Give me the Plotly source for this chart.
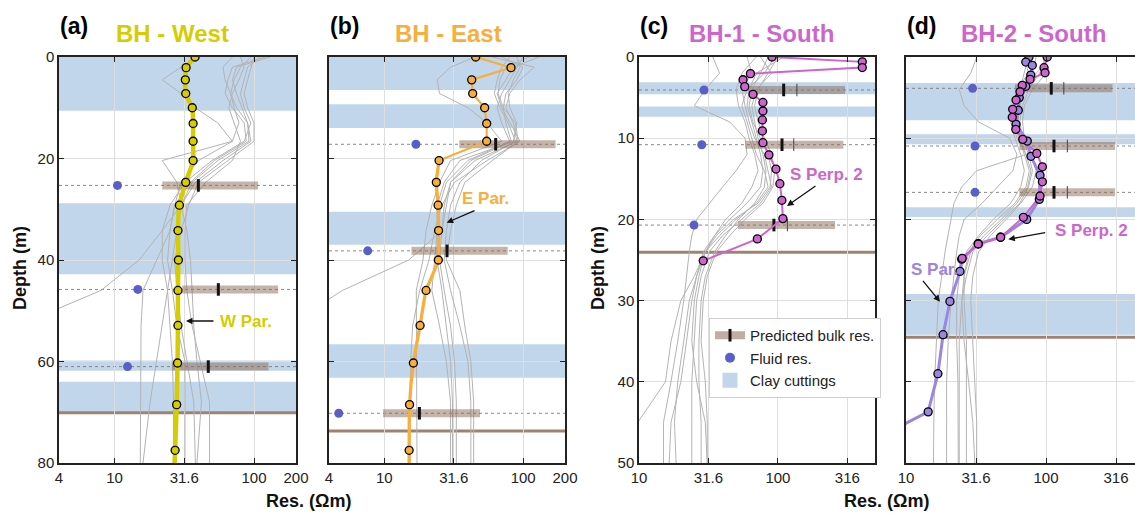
import math
import plotly.graph_objects as go

W, H = 1135, 513
TOP, BOT = 57, 463
FONT = "Liberation Sans, Arial, sans-serif"

# ---------------- data ----------------
# model layer depths (m) for BH-West / BH-East profiles
depth_ab = [0, 2.1, 4.5, 7.2, 10.0, 13.1, 16.6, 20.4, 24.7, 29.2, 34.2, 40.0, 46.0, 52.9, 60.3, 68.5, 77.5]
west_par = [37.8, 32.6, 32.2, 32.4, 36.1, 36.6, 36.6, 36.6, 32.4, 29.2, 28.5, 28.7, 28.5, 28.5, 28.3, 27.9, 27.2]
east_par = [45.5, 81.7, 42.6, 43.3, 52.8, 54.6, 54.6, 24.8, 23.7, 24.4, 24.6, 24.5, 20.0, 18.1, 16.2, 15.2, 15.1]
west_tail = (80, 27.0)
east_tail = (80, 15.1)

depth_c_perp2 = [0, 0.6, 1.3, 2.05, 2.8, 3.65, 4.6, 5.6, 6.65, 7.75, 9.1, 10.55, 12.05, 13.8, 15.6, 17.65, 19.9, 22.4, 25.1]
res_c_perp2 = [90.6, 405, 405, 63.4, 56.1, 57.7, 66.2, 78.0, 78.0, 77.3, 77.3, 78.0, 86.2, 96.8, 103.3, 106.8, 108.6, 71.1, 29.0]

depth_d_perp2 = [0, 1.32, 1.94, 2.75, 3.49, 4.28, 5.30, 6.44, 7.43, 8.91, 10.14, 11.87, 13.52, 15.37, 17.12, 19.74, 22.2, 23.03, 24.79]
res_d_perp2 = [102, 96.8, 98.4, 76.9, 67.7, 65.2, 61.1, 57.8, 57.4, 60.8, 68.2, 85.9, 94.2, 94.2, 90.6, 68.9, 47.4, 32.8, 25.2]
depth_d_par = [0, 0.62, 1.02, 2.22, 3.61, 5.0, 6.56, 8.29, 10.35, 12.23, 14.57, 17.53, 20.0, 22.2, 23.0, 24.9, 26.4, 30.1, 34.2, 39.0, 43.7]
res_d_par = [75.6, 71.7, 79.8, 77.8, 71.7, 64.4, 63.4, 61.1, 73.5, 78.1, 90.6, 89.6, 72.8, 47.4, 32.8, 25.0, 24.3, 20.6, 18.4, 16.9, 14.4]
d_par_tail = (46.1, 7.7)

# other (grey) inverted profiles
grey_depth_ab = [0, 2, 4.5, 7.2, 10, 13, 16.6, 20.4, 24.7, 29.2, 34.2, 40, 46, 53, 60, 68, 80]
grey_a = [
    [95, 80, 72, 68, 75, 90, 95, 60, 38, 30, 28, 26, 24, 22, 20, 18, 16],
    [120, 70, 65, 62, 70, 85, 88, 52, 35, 27, 25, 20, 16, 15.5, 15.4, 15.3, 15.3],
    [80, 85, 78, 70, 66, 72, 80, 70, 45, 33, 32, 32, 33, 36, 41, 48, 48],
    [40, 30, 22, 30, 38, 55, 70, 22, 28, 30, 33, 35, 36, 37, 39, 42, 39],
    [110, 90, 85, 80, 85, 95, 85, 50, 32, 25, 22, 22, 24, 25, 26, 26.5, 26.4],
    [70, 60, 62, 68, 72, 78, 70, 40, 30, 27, 25, 24, 26, 28, 32, 32, 32],
    [130, 75, 70, 75, 82, 90, 92, 55, 36, 30, 22, 15, 8, 2, 2, 2, 2],
    [100, 95, 90, 85, 90, 100, 100, 65, 40, 34, 30, 27, 28, 30, 33, 37, 38],
]
grey_b = [
    [60, 120, 95, 80, 75, 85, 90, 45, 30, 28, 26, 25, 27, 30, 32, 33, 33],
    [100, 90, 80, 70, 65, 70, 80, 40, 28, 25, 24, 23, 22, 25, 28, 30, 30],
    [130, 85, 75, 65, 70, 80, 95, 55, 32, 26, 23, 21, 18, 16, 15.5, 15.3, 15.3],
    [45, 30, 24, 25, 40, 55, 70, 30, 25, 22, 20, 19, 17, 17, 17, 17.2, 17.2],
    [80, 70, 65, 62, 68, 78, 88, 50, 35, 30, 28, 27, 30, 35, 40, 42, 42],
    [70, 100, 90, 75, 72, 75, 82, 42, 30, 27, 26, 15, 5, 2, 2, 2, 2],
    [110, 75, 68, 66, 72, 88, 92, 60, 38, 33, 30, 28, 35, 38, 42, 44, 44],
    [90, 95, 85, 78, 80, 90, 85, 35, 27, 24, 24, 24, 26, 28, 30, 31, 31],
]
grey_depth_cd = [0, 2, 4, 6, 8, 10, 12, 14, 16, 18, 20, 22, 24, 27, 30, 35, 40, 45, 50]
grey_c = [
    [34, 38, 30, 25, 45, 58, 60, 50, 40, 32, 26, 24, 23, 22, 21, 19, 17, 15, 15],
    [60, 65, 55, 58, 62, 68, 80, 85, 90, 75, 55, 40, 32, 28, 26, 25, 24, 24, 24],
    [95, 80, 60, 55, 60, 65, 70, 80, 85, 70, 50, 38, 30, 27, 25, 24, 26, 30, 31],
    [110, 70, 62, 60, 65, 70, 75, 78, 75, 60, 45, 35, 29, 26, 24, 22, 20, 17, 16.5],
    [75, 90, 70, 65, 68, 72, 78, 82, 80, 68, 52, 42, 35, 30, 28, 27, 27, 28, 28],
    [85, 75, 65, 62, 66, 75, 85, 90, 88, 72, 48, 36, 30, 26, 23, 21, 19, 18, 18.5],
    [70, 55, 50, 52, 58, 62, 68, 72, 65, 55, 42, 35, 30, 25, 20, 17, 15.5, 9.8, 8],
    [100, 85, 72, 68, 72, 80, 90, 95, 92, 78, 58, 45, 36, 31, 29, 28, 30, 31, 31],
]
grey_d = [
    [32, 29, 24, 26, 33, 55, 62, 58, 45, 35, 26, 24, 23, 22, 21, 20, 19.5, 19.5, 19.5],
    [75, 70, 65, 60, 58, 62, 72, 32, 25, 22, 21, 20, 19, 18, 17, 16.5, 16, 15.8, 15.7],
    [100, 90, 75, 68, 65, 68, 75, 80, 75, 65, 50, 38, 30, 27, 25, 24, 24, 24, 24],
    [110, 85, 70, 62, 60, 64, 70, 76, 72, 60, 45, 34, 28, 26, 26, 27, 27, 27, 27],
    [85, 80, 68, 65, 63, 66, 72, 78, 74, 62, 48, 36, 29, 26, 25, 26, 28, 30, 31],
    [95, 100, 80, 70, 68, 70, 78, 85, 80, 66, 52, 40, 33, 30, 29, 30, 31, 32, 32],
    [70, 75, 62, 58, 56, 60, 66, 70, 66, 56, 42, 33, 27, 24, 23, 23, 23.5, 23.6, 23.6],
]

# predicted bulk resistivity & fluid resistivity
bulk_depth = {'a': [25.3, 45.8, 61.0], 'b': [17.2, 38.2, 70.2], 'c': [4.06, 10.8, 20.7], 'd': [3.86, 10.96, 16.67]}
bulk_low = {'a': [22.0, 30.6, 25.8], 'b': [34.7, 15.7, 9.8], 'c': [62.6, 58.3, 51.6], 'd': [60, 64.5, 64.5]}
bulk_high = {'a': [107, 149, 127], 'b': [171, 77.4, 48.9], 'c': [304, 296, 258], 'd': [298, 311, 311]}
bulk_median = {'a': [39.9, 55.5, 47], 'b': [63.4, 28.3, 17.9], 'c': [110, 107, 93.6], 'd': [109, 114, 114]}
bulk_mean = {'c': [137, 130, 117], 'd': [134, 142, 142]}
fluid_res = {'a': [10.5, 14.7, 12.4], 'b': [16.9, 7.6, 4.7], 'c': [29.4, 28.3, 24.9], 'd': [29.9, 31.1, 31.1]}

clay_bands = {
    'a': [(0, 10.6), (28.8, 42.8), (59.8, 61.8), (64.0, 70.2)],
    'b': [(0, 6.5), (9.3, 14.0), (30.5, 37.0), (56.6, 63.2)],
    'c': [(3.1, 4.6), (6.1, 7.35)],
    'd': [(3.2, 7.8), (9.5, 10.75), (18.5, 19.7), (29.2, 34.2)],
}
brown_depth = {'a': 70.1, 'b': 73.7, 'c': 24.05, 'd': 34.5}

panel_titles = {'a': 'BH - West', 'b': 'BH - East', 'c': 'BH-1 - South', 'd': 'BH-2 - South'}
x_ticks_ab = [4, 10, 31.62, 100, 200]
x_ticklabels_ab = ['4', '10', '31.6', '100', '200']
x_ticks_cd = [10, 31.62, 100, 316.2]
x_ticklabels_cd = ['10', '31.6', '100', '316']
y_ticks_ab = [0, 20, 40, 60, 80]
y_ticks_cd = [0, 10, 20, 30, 40, 50]

# ---------------- styling ----------------
YELLOW = '#d6cc00'
ORANGE = '#f8ae3c'
MAGENTA = '#cc66cc'
PURPLE = '#9c85df'
GREY = '#b3b3b3'
BAND = '#c1d6ea'
BROWN = '#a08272'
BULK = 'rgba(140,105,85,0.5)'
FLUID = '#5a5fc8'

X_PIX = {'a': (59, 296), 'b': (329, 565), 'c': (639, 875), 'd': (906, 1135)}
X_RANGE = {'a': (4, 200), 'b': (4, 200), 'c': (10, 500), 'd': (10, 432)}
Y_MAX = {'a': 80, 'b': 80, 'c': 50, 'd': 50}
TITLE_CX = {'a': 172.5, 'b': 448, 'c': 761, 'd': 1033}
TITLE_COL = {'a': YELLOW, 'b': ORANGE, 'c': MAGENTA, 'd': MAGENTA}


def fx(px):
    return px / W


def fy(py):
    return 1 - py / H


fig = go.Figure()
layout = dict(
    width=W, height=H, margin=dict(l=0, r=0, t=0, b=0, autoexpand=False),
    paper_bgcolor='white', plot_bgcolor='white',
    font=dict(family=FONT, size=15, color='#222'),
    showlegend=True,
)
shapes = []
annotations = []

for i, p in enumerate(['a', 'b', 'c', 'd']):
    n = '' if i == 0 else str(i + 1)
    xa, ya = 'x' + n, 'y' + n
    x0, x1 = X_PIX[p]
    ab = p in ('a', 'b')
    layout['xaxis' + n] = dict(
        domain=[fx(x0), fx(x1)], anchor=ya, type='log',
        range=[math.log10(X_RANGE[p][0]), math.log10(X_RANGE[p][1])],
        tickvals=x_ticks_ab if ab else x_ticks_cd,
        ticktext=x_ticklabels_ab if ab else x_ticklabels_cd,
        showgrid=True, gridcolor='#dedede', gridwidth=1,
        ticks='inside', ticklen=5, tickwidth=1.2, tickcolor='#222',
        showline=True, linecolor='#222', linewidth=1.5, mirror='ticks',
        zeroline=False, tickfont=dict(size=15, color='#222', family=FONT),
    )
    layout['yaxis' + n] = dict(
        domain=[fy(BOT), fy(TOP)], anchor=xa,
        range=[Y_MAX[p], 0],
        tickvals=y_ticks_ab if ab else y_ticks_cd,
        showticklabels=p in ('a', 'c'),
        showgrid=True, gridcolor='#dedede', gridwidth=1,
        ticks='inside', ticklen=5, tickwidth=1.2, tickcolor='#222',
        showline=True, linecolor='#222', linewidth=1.5,
        mirror=('ticks' if p != 'd' else False),
        zeroline=False, tickfont=dict(size=15, color='#222', family=FONT),
    )

    # clay bands
    for (d0, d1) in clay_bands[p]:
        shapes.append(dict(type='rect', xref=xa + ' domain', yref=ya, x0=0, x1=1, y0=d0, y1=d1,
                           fillcolor=BAND, line=dict(width=0), layer='below'))
    # dashed lines at bulk depths
    for d in bulk_depth[p]:
        shapes.append(dict(type='line', xref=xa + ' domain', yref=ya, x0=0, x1=1, y0=d, y1=d,
                           line=dict(color='#7a7a7a', width=0.9, dash='3px,3px'), layer='below'))
    # brown line
    shapes.append(dict(type='line', xref=xa + ' domain', yref=ya, x0=0, x1=1,
                       y0=brown_depth[p], y1=brown_depth[p],
                       line=dict(color=BROWN, width=3), layer='below'))

    # grey profiles
    gdepth = grey_depth_ab if ab else grey_depth_cd
    glist = {'a': grey_a, 'b': grey_b, 'c': grey_c, 'd': grey_d}[p]
    for g in glist:
        fig.add_trace(go.Scatter(x=g, y=gdepth, mode='lines', xaxis=xa, yaxis=ya,
                                 line=dict(color=GREY, width=1), showlegend=False, hoverinfo='skip'))

    # bulk bars
    for k, d in enumerate(bulk_depth[p]):
        fig.add_trace(go.Scatter(x=[bulk_low[p][k], bulk_high[p][k]], y=[d, d], mode='lines',
                                 xaxis=xa, yaxis=ya, line=dict(color=BULK, width=8),
                                 showlegend=False, hoverinfo='skip'))
    if p in bulk_mean:
        fig.add_trace(go.Scatter(x=bulk_mean[p], y=bulk_depth[p], mode='markers', xaxis=xa, yaxis=ya,
                                 marker=dict(symbol='line-ns', size=9, line=dict(color='#444', width=1)),
                                 showlegend=False, hoverinfo='skip'))
    fig.add_trace(go.Scatter(x=bulk_median[p], y=bulk_depth[p], mode='markers', xaxis=xa, yaxis=ya,
                             marker=dict(symbol='line-ns', size=9, line=dict(color='#111', width=3)),
                             showlegend=False, hoverinfo='skip'))
    # fluid res
    fig.add_trace(go.Scatter(x=fluid_res[p], y=bulk_depth[p], mode='markers', xaxis=xa, yaxis=ya,
                             marker=dict(color=FLUID, size=9), showlegend=False, hoverinfo='skip'))

    # titles
    annotations.append(dict(text='<b>(%s)</b>' % p, xref='paper', yref='paper', x=fx(x0 - 1), y=fy(26),
                            xanchor='left', yanchor='middle', showarrow=False,
                            font=dict(size=23, color='black', family=FONT)))
    annotations.append(dict(text='<b>%s</b>' % panel_titles[p], xref='paper', yref='paper',
                            x=fx(TITLE_CX[p]), y=fy(33), xanchor='center', yanchor='middle',
                            showarrow=False, font=dict(size=24, color=TITLE_COL[p], family=FONT)))

mk = lambda c: dict(color=c, size=8, line=dict(color='black', width=1.3))

# BH-West
fig.add_trace(go.Scatter(x=west_par + [west_tail[1]], y=depth_ab + [west_tail[0]], mode='lines',
                         xaxis='x', yaxis='y', line=dict(color=YELLOW, width=4.5, shape='spline', smoothing=0.5),
                         showlegend=False, hoverinfo='skip'))
fig.add_trace(go.Scatter(x=west_par, y=depth_ab, mode='markers', xaxis='x', yaxis='y',
                         marker=mk(YELLOW), showlegend=False, hoverinfo='skip'))
# BH-East
fig.add_trace(go.Scatter(x=east_par[:8], y=depth_ab[:8], mode='lines', xaxis='x2', yaxis='y2',
                         line=dict(color=ORANGE, width=2.2), showlegend=False, hoverinfo='skip'))
fig.add_trace(go.Scatter(x=east_par[7:] + [east_tail[1]], y=depth_ab[7:] + [east_tail[0]], mode='lines',
                         xaxis='x2', yaxis='y2', line=dict(color=ORANGE, width=3.3, shape='spline', smoothing=0.5),
                         showlegend=False, hoverinfo='skip'))
fig.add_trace(go.Scatter(x=east_par, y=depth_ab, mode='markers', xaxis='x2', yaxis='y2',
                         marker=mk(ORANGE), showlegend=False, hoverinfo='skip'))
# BH-1 South
fig.add_trace(go.Scatter(x=res_c_perp2, y=depth_c_perp2, mode='lines+markers', xaxis='x3', yaxis='y3',
                         line=dict(color=MAGENTA, width=2), marker=mk(MAGENTA),
                         showlegend=False, hoverinfo='skip'))
# BH-2 South
fig.add_trace(go.Scatter(x=res_d_par + [d_par_tail[1]], y=depth_d_par + [d_par_tail[0]], mode='lines',
                         xaxis='x4', yaxis='y4', line=dict(color=PURPLE, width=3),
                         showlegend=False, hoverinfo='skip'))
fig.add_trace(go.Scatter(x=res_d_perp2, y=depth_d_perp2, mode='lines', xaxis='x4', yaxis='y4',
                         line=dict(color=MAGENTA, width=2), showlegend=False, hoverinfo='skip'))
fig.add_trace(go.Scatter(x=res_d_par, y=depth_d_par, mode='markers', xaxis='x4', yaxis='y4',
                         marker=mk(PURPLE), showlegend=False, hoverinfo='skip'))
fig.add_trace(go.Scatter(x=res_d_perp2, y=depth_d_perp2, mode='markers', xaxis='x4', yaxis='y4',
                         marker=mk(MAGENTA), showlegend=False, hoverinfo='skip'))

# legend entries
fig.add_trace(go.Scatter(x=[None], y=[None], mode='lines+markers', xaxis='x3', yaxis='y3',
                         name='Predicted bulk res.', line=dict(color='rgba(140,105,85,0.55)', width=8),
                         marker=dict(symbol='line-ns', size=9, line=dict(color='#111', width=3))))
fig.add_trace(go.Scatter(x=[None], y=[None], mode='markers', xaxis='x3', yaxis='y3',
                         name='Fluid res.', marker=dict(color=FLUID, size=10)))
fig.add_trace(go.Scatter(x=[None], y=[None], mode='markers', xaxis='x3', yaxis='y3',
                         name='Clay cuttings', marker=dict(symbol='square', color=BAND, size=15)))

layout['legend'] = dict(x=fx(709), y=fy(318), xanchor='left', yanchor='top', bgcolor='white',
                        bordercolor='#cfcfcf', borderwidth=1, tracegroupgap=0,
                        font=dict(size=15, family=FONT, color='#222'))

# axis titles
for cx in (20, 598):
    annotations.append(dict(text='<b>Depth (m)</b>', xref='paper', yref='paper', x=fx(cx), y=fy(268),
                            xanchor='center', yanchor='middle', textangle=-90, showarrow=False,
                            font=dict(size=18, color='#111', family=FONT)))
for cx in (309, 886):
    annotations.append(dict(text='<b>Res. (Ωm)</b>', xref='paper', yref='paper', x=fx(cx), y=fy(501),
                            xanchor='center', yanchor='middle', showarrow=False,
                            font=dict(size=18, color='#111', family=FONT)))

# curve labels with arrows
labels = [
    ('W Par.', YELLOW, 218, 321, (186, 321), (215, 321)),
    ('E Par.', ORANGE, 460, 198, (446.7, 222.7), (476, 210)),
    ('S Perp. 2', MAGENTA, 788, 175, (787, 206), (817, 185)),
    ('S Perp. 2', MAGENTA, 1053, 231, (1008.3, 239.3), (1046.7, 232.3)),
    ('S Par.', PURPLE, 909, 269, (940, 301.7), (921.7, 279.3)),
]
for txt, col, tx, ty, head, tail in labels:
    annotations.append(dict(text='<b>%s</b>' % txt, xref='paper', yref='paper', x=fx(tx), y=fy(ty),
                            xanchor='left', yanchor='middle', showarrow=False,
                            font=dict(size=17, color=col, family=FONT)))
    annotations.append(dict(text='', xref='paper', yref='paper', x=fx(head[0]), y=fy(head[1]),
                            ax=tail[0] - head[0], ay=tail[1] - head[1], showarrow=True,
                            arrowhead=2, arrowsize=1, arrowwidth=1.3, arrowcolor='#111'))

layout['shapes'] = shapes
layout['annotations'] = annotations
fig.update_layout(**layout)
fig.write_html('out.html')
